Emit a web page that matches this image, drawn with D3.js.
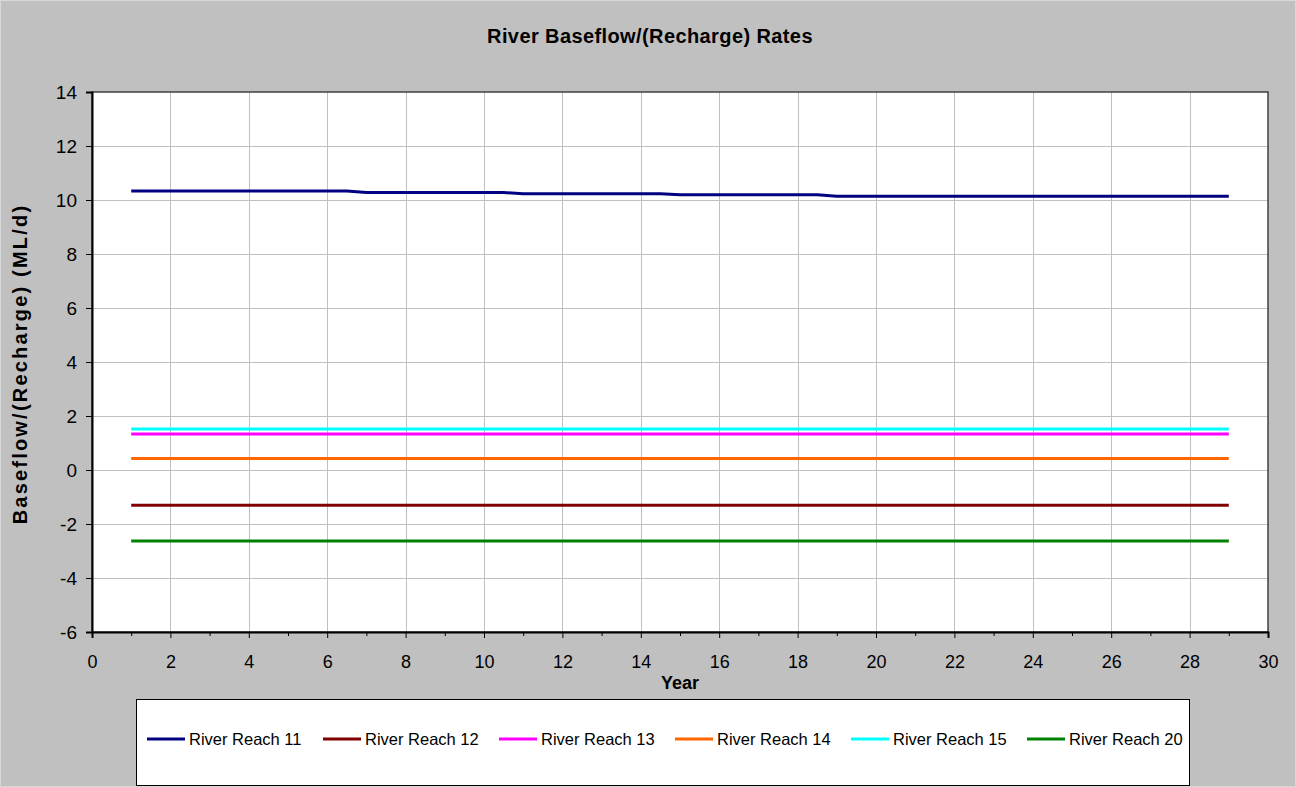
<!DOCTYPE html>
<html>
<head>
<meta charset="utf-8">
<script src="https://cdn.jsdelivr.net/npm/d3@7"></script>
<style>
  html, body { margin: 0; padding: 0; background: #c0c0c0; }
  svg { display: block; font-family: "Liberation Sans", Arial, sans-serif; }
</style>
</head>
<body>
<svg id="chart" width="1296" height="787"></svg>
<script>
// ---- data ----
const years   = [1, 6.5, 7, 10.5, 11, 14.5, 15, 18.5, 19, 29];
const reach11 = [10.33, 10.33, 10.28, 10.28, 10.23, 10.23, 10.19, 10.19, 10.14, 10.14];
const reach12 = [-1.31, -1.31, -1.31, -1.31, -1.31, -1.31, -1.31, -1.31, -1.31, -1.31];
const reach13 = [1.33, 1.33, 1.33, 1.33, 1.33, 1.33, 1.33, 1.33, 1.33, 1.33];
const reach14 = [0.43, 0.43, 0.43, 0.43, 0.43, 0.43, 0.43, 0.43, 0.43, 0.43];
const reach15 = [1.52, 1.52, 1.52, 1.52, 1.52, 1.52, 1.52, 1.52, 1.52, 1.52];
const reach20 = [-2.63, -2.63, -2.63, -2.63, -2.63, -2.63, -2.63, -2.63, -2.63, -2.63];
const seriesNames  = ["River Reach 11", "River Reach 12", "River Reach 13", "River Reach 14", "River Reach 15", "River Reach 20"];
const seriesColors = ["#000080", "#800000", "#ff00ff", "#ff6600", "#00ffff", "#008000"];
const xTicks = [0, 2, 4, 6, 8, 10, 12, 14, 16, 18, 20, 22, 24, 26, 28, 30];
const xMinorTicks = [1, 3, 5, 7, 9, 11, 13, 15, 17, 19, 21, 23, 25, 27, 29];
const yTicks = [-6, -4, -2, 0, 2, 4, 6, 8, 10, 12, 14];
const titleText = "River Baseflow/(Recharge) Rates";
const xTitle = "Year";
const yTitle = "Baseflow/(Recharge) (ML/d)";

const seriesValues = [reach11, reach12, reach13, reach14, reach15, reach20];
const series = seriesNames.map((name, i) => ({
  name, color: seriesColors[i],
  points: years.map((x, j) => ({ x, y: seriesValues[i][j] }))
}));

// ---- layout ----
const svg = d3.select("#chart");
const W = 1296, H = 787;
const plot = { left: 92, top: 92, right: 1268, bottom: 632 };

svg.append("rect").attr("x", 0.5).attr("y", 0.5).attr("width", W - 1).attr("height", H - 1)
  .attr("fill", "#c0c0c0").attr("stroke", "#d8d8d8");

const x = d3.scaleLinear().domain([0, 30]).range([plot.left, plot.right]);
const y = d3.scaleLinear().domain([-6, 14]).range([plot.bottom, plot.top]);

// plot background
svg.append("rect")
  .attr("x", plot.left).attr("y", plot.top)
  .attr("width", plot.right - plot.left).attr("height", plot.bottom - plot.top)
  .attr("fill", "#ffffff");

// gridlines
const grid = svg.append("g").attr("stroke", "#c0c0c0").attr("stroke-width", 1);
grid.selectAll("line.v").data(xTicks.filter(t => t > 0 && t < 30)).enter().append("line")
  .attr("x1", d => Math.round(x(d)) + 0.5).attr("x2", d => Math.round(x(d)) + 0.5)
  .attr("y1", plot.top).attr("y2", plot.bottom);
grid.selectAll("line.h").data(yTicks.filter(t => t > -6 && t < 14)).enter().append("line")
  .attr("y1", d => Math.round(y(d)) + 0.5).attr("y2", d => Math.round(y(d)) + 0.5)
  .attr("x1", plot.left).attr("x2", plot.right);

// plot border
svg.append("rect")
  .attr("x", plot.left).attr("y", plot.top)
  .attr("width", plot.right - plot.left).attr("height", plot.bottom - plot.top)
  .attr("fill", "none").attr("stroke", "#404040").attr("stroke-width", 1.5);

// series lines
const line = d3.line().x(d => x(d.x)).y(d => y(d.y));
svg.append("g").selectAll("path").data(series).enter().append("path")
  .attr("d", d => line(d.points))
  .attr("fill", "none").attr("stroke", d => d.color).attr("stroke-width", 3)
  .attr("stroke-linejoin", "round");

// axes
const fmt = d => String(d);
const xAxisMinor = d3.axisBottom(x).tickValues(xMinorTicks).tickSize(4).tickFormat("");
const gxm = svg.append("g").attr("transform", `translate(0,${plot.bottom})`).call(xAxisMinor);
gxm.select(".domain").remove();
gxm.selectAll("line").attr("stroke", "#000");

const xAxis = d3.axisBottom(x).tickValues(xTicks).tickSize(6).tickPadding(17).tickFormat(fmt);
const gx = svg.append("g").attr("transform", `translate(0,${plot.bottom})`).call(xAxis);
gx.select(".domain").attr("stroke", "#000").attr("stroke-width", 2);
gx.selectAll("line").attr("stroke", "#000");
gx.selectAll("text").attr("font-size", 18).attr("fill", "#000")
  .attr("font-family", "'Liberation Sans', Arial, sans-serif");

const yAxis = d3.axisLeft(y).tickValues(yTicks).tickSize(6).tickPadding(9).tickFormat(fmt);
const gy = svg.append("g").attr("transform", `translate(${plot.left},0)`).call(yAxis);
gy.select(".domain").attr("stroke", "#000").attr("stroke-width", 2);
gy.selectAll("line").attr("stroke", "#000");
gy.selectAll("text").attr("font-size", 19).attr("fill", "#000")
  .attr("font-family", "'Liberation Sans', Arial, sans-serif");

// titles
svg.append("text").attr("x", 650).attr("y", 43).attr("text-anchor", "middle")
  .attr("font-size", 20).attr("font-weight", "bold").attr("letter-spacing", 0.4)
  .text(titleText);
svg.append("text").attr("x", 680).attr("y", 689).attr("text-anchor", "middle")
  .attr("font-size", 18).attr("font-weight", "bold")
  .text(xTitle);
svg.append("text").attr("transform", `translate(27,364) rotate(-90)`).attr("text-anchor", "middle")
  .attr("font-size", 20).attr("font-weight", "bold").attr("letter-spacing", 2.2)
  .text(yTitle);

// legend
const legend = svg.append("g");
legend.append("rect").attr("x", 136.5).attr("y", 699.5).attr("width", 1053).attr("height", 86)
  .attr("fill", "#fff").attr("stroke", "#000").attr("stroke-width", 1);
const items = legend.selectAll("g.item").data(series).enter().append("g")
  .attr("transform", (d, i) => `translate(${147 + i * 176},739)`);
items.append("line").attr("x1", 0).attr("x2", 38).attr("y1", 0).attr("y2", 0)
  .attr("stroke", d => d.color).attr("stroke-width", 3);
items.append("text").attr("x", 42).attr("y", 0).attr("dy", "0.35em")
  .attr("font-size", 16.5).attr("fill", "#000").text(d => d.name);
</script>
</body>
</html>
